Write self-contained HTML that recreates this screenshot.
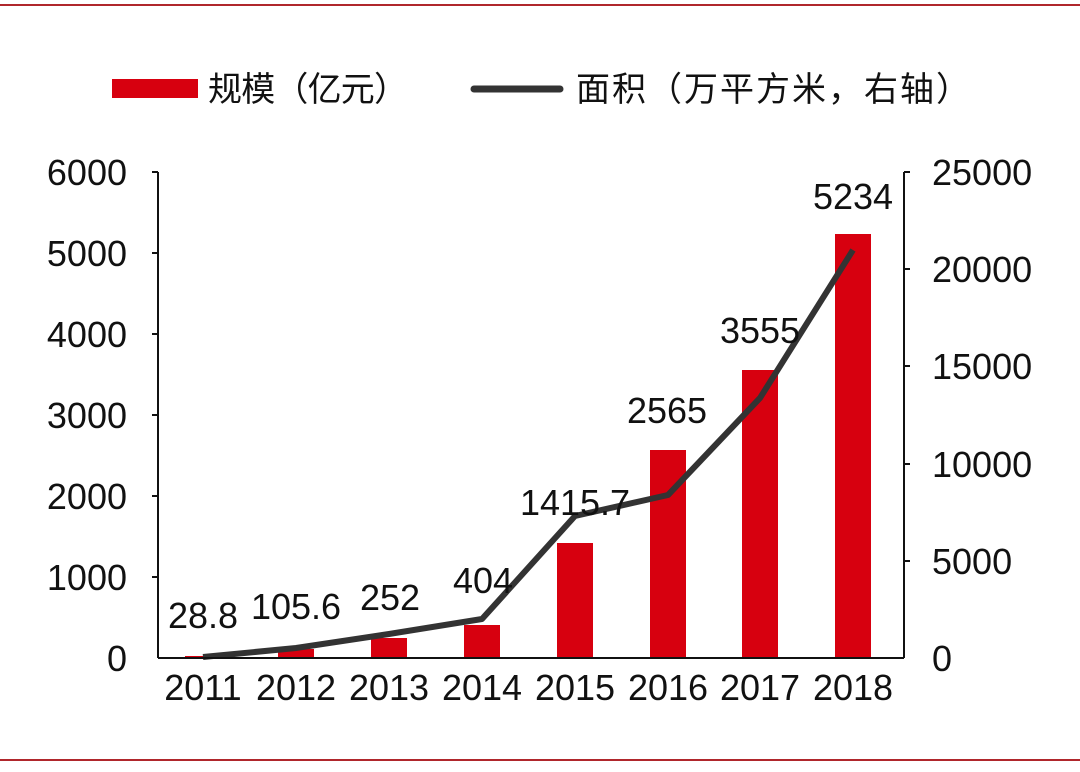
<!DOCTYPE html>
<html><head><meta charset="utf-8"><style>
body{margin:0;background:#fff;}
svg text{font-family:"Liberation Sans","Noto Sans CJK SC",sans-serif;fill:#111;}
</style></head><body>
<svg width="1080" height="767" viewBox="0 0 1080 767" xmlns="http://www.w3.org/2000/svg">
<rect width="1080" height="767" fill="#fff"/>
<line x1="0" y1="5" x2="1080" y2="5" stroke="#b0272c" stroke-width="2"/>
<line x1="0" y1="760" x2="1080" y2="760" stroke="#b0272c" stroke-width="2"/>
<!-- legend -->
<rect x="112" y="79" width="86" height="19" fill="#d7000f"/>
<text x="208" y="101" font-size="34" textLength="200">规模（亿元）</text>
<line x1="474" y1="89" x2="560" y2="89" stroke="#333" stroke-width="7" stroke-linecap="round"/>
<text x="576" y="101" font-size="34" textLength="394">面积（万平方米，右轴）</text>
<!-- bars -->
<g fill="#d7000f">
<rect x="185" y="656" width="36" height="2"/>
<rect x="278" y="649" width="36" height="9"/>
<rect x="371" y="638" width="36" height="20"/>
<rect x="464" y="625" width="36" height="33"/>
<rect x="557" y="543" width="36" height="115"/>
<rect x="650" y="450" width="36" height="208"/>
<rect x="742" y="370" width="36" height="288"/>
<rect x="835" y="234" width="36" height="424"/>
</g>
<!-- line -->
<polyline points="203,657 296,648 389,634 482,619 575,516 668,495 760,398 853,250" fill="none" stroke="#333" stroke-width="6" stroke-linejoin="round"/>
<!-- axes -->
<g stroke="#111" stroke-width="2">
<line x1="158" y1="172" x2="158" y2="658"/>
<line x1="904" y1="172" x2="904" y2="658"/>
<line x1="158" y1="658" x2="904" y2="658"/>
<line x1="152" y1="172" x2="158" y2="172"/><line x1="152" y1="253" x2="158" y2="253"/><line x1="152" y1="334" x2="158" y2="334"/><line x1="152" y1="415" x2="158" y2="415"/><line x1="152" y1="496" x2="158" y2="496"/><line x1="152" y1="577" x2="158" y2="577"/>
<line x1="904" y1="172" x2="910" y2="172"/><line x1="904" y1="269" x2="910" y2="269"/><line x1="904" y1="366" x2="910" y2="366"/><line x1="904" y1="464" x2="910" y2="464"/><line x1="904" y1="561" x2="910" y2="561"/>
</g>
<g font-size="36" text-anchor="end">
<text x="127" y="185">6000</text><text x="127" y="266">5000</text><text x="127" y="347">4000</text><text x="127" y="428">3000</text><text x="127" y="509">2000</text><text x="127" y="590">1000</text><text x="127" y="671">0</text>
</g>
<g font-size="36" text-anchor="start">
<text x="932" y="185">25000</text><text x="932" y="282">20000</text><text x="932" y="379">15000</text><text x="932" y="477">10000</text><text x="932" y="574">5000</text><text x="932" y="671">0</text>
</g>
<g font-size="36" text-anchor="middle">
<text x="203" y="700">2011</text><text x="296" y="700">2012</text><text x="389" y="700">2013</text><text x="482" y="700">2014</text><text x="575" y="700">2015</text><text x="668" y="700">2016</text><text x="760" y="700">2017</text><text x="853" y="700">2018</text>
<text x="203" y="628">28.8</text><text x="296" y="619">105.6</text><text x="390" y="610">252</text><text x="483" y="593">404</text><text x="575" y="515">1415.7</text><text x="667" y="423">2565</text><text x="760" y="343">3555</text><text x="853" y="209">5234</text>
</g>
</svg>
</body></html>
